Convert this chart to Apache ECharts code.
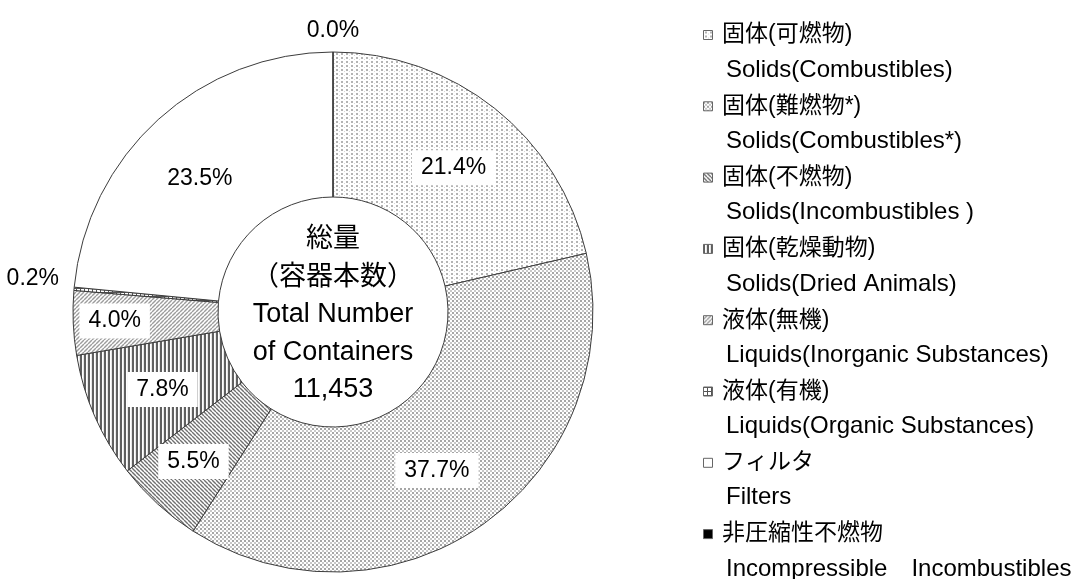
<!DOCTYPE html>
<html>
<head>
<meta charset="utf-8">
<script src="https://cdn.jsdelivr.net/npm/echarts@6/dist/echarts.min.js"></script>
<style>
  html, body { margin: 0; background: #fff; }
  #chart { width: 1079px; height: 579px; }
</style>
</head>
<body>
<div id="chart"></div>
<script>
// categories (legend order = clockwise order from 12 o'clock)
const namesJa = ['固体(可燃物)', '固体(難燃物*)', '固体(不燃物)', '固体(乾燥動物)',
  '液体(無機)', '液体(有機)', 'フィルタ', '非圧縮性不燃物'];
const namesEn = ['Solids(Combustibles)', 'Solids(Combustibles*)', 'Solids(Incombustibles )',
  'Solids(Dried Animals)', 'Liquids(Inorganic Substances)', 'Liquids(Organic Substances)',
  'Filters', 'Incompressible\u3000Incombustibles'];
// share of containers, %
const shares = [21.4, 37.7, 5.5, 7.8, 4.0, 0.2, 23.5, 0.0];
const centerLines = ['総量', '（容器本数）', 'Total Number', 'of Containers', '11,453'];

// which slices keep their label outside the ring
const outsideIdx = [5, 7];
// small nudges of the labels from where echarts puts them
const labelShift = [[2, 5], [-6, 3], [-11, 9], [4, 1], [-28, 1], [-10, -10], [-5, 8], [0, -21]];

const FONT = "'Liberation Sans', 'Noto Sans CJK JP', sans-serif";
const pieCenter = [333, 312];

// hatch / dot fills like the excel patterns
function tile(w, h, draw) {
  const c = document.createElement('canvas');
  c.width = w; c.height = h;
  const g = c.getContext('2d');
  g.fillStyle = '#fff';
  g.fillRect(0, 0, w, h);
  draw(g, w, h);
  return { image: c, repeat: 'repeat' };
}
function diag(g, s, color, lw, up) {
  g.strokeStyle = color; g.lineWidth = lw;
  for (let k = -1; k <= 1; k++) {
    g.beginPath();
    if (up) { g.moveTo(k * s, s); g.lineTo(k * s + s, 0); }
    else { g.moveTo(k * s, 0); g.lineTo(k * s + s, s); }
    g.stroke();
  }
}
const fills = [
  tile(5, 4, g => { g.fillStyle = '#b4b4b4'; g.fillRect(1, 1, 2, 2); g.fillStyle = '#d8d8d8'; g.fillRect(4, 3, 1, 1); }),
  tile(4, 4, g => { g.fillStyle = '#a6a6a6'; g.fillRect(0, 0, 2, 2); g.fillStyle = '#c8c8c8'; g.fillRect(2, 2, 2, 2); }),
  tile(4, 4, (g, s) => diag(g, s, '#707070', 1.4, false)),
  tile(4, 1, g => { g.fillStyle = '#606060'; g.fillRect(0, 0, 2, 1); g.fillStyle = '#e6e6e6'; g.fillRect(3, 0, 1, 1); }),
  tile(4, 4, (g, s) => diag(g, s, '#9c9c9c', 1.4, true)),
  tile(4, 4, g => { g.fillStyle = '#555'; g.fillRect(0, 0, 4, 1); g.fillRect(0, 0, 1, 4); }),
  '#ffffff',
  '#000000'
];

const data = namesJa.map((n, i) => {
  const outside = outsideIdx.indexOf(i) >= 0;
  return {
    name: n,
    value: shares[i],
    itemStyle: { color: fills[i] },
    label: outside
      ? { position: 'outside', backgroundColor: 'transparent', padding: 0 }
      : { position: 'inside' }
  };
});

const legendBase = {
  orient: 'vertical',
  left: 703,
  height: 620, // keep all 8 entries in one column
  padding: 0,
  itemGap: 36.3,
  itemWidth: 18,
  itemHeight: 9,
  data: namesJa
};

const chart = echarts.init(document.getElementById('chart'), null, { renderer: 'canvas' });

chart.setOption({
  animation: false,
  backgroundColor: '#fff',
  legend: [
    Object.assign({}, legendBase, {
      top: 17.5,
      icon: 'path://M0,0h10v10h-10z',
      itemStyle: { borderColor: '#666', borderWidth: 1 },
      textStyle: { fontSize: 23, lineHeight: 35, fontFamily: FONT, color: '#000' }
    }),
    // english second line of each entry, no marker
    Object.assign({}, legendBase, {
      top: 52.5,
      icon: 'none',
      itemStyle: { color: 'transparent', borderWidth: 0 },
      textStyle: { fontSize: 24, lineHeight: 35, fontFamily: FONT, color: '#000' },
      formatter: name => namesEn[namesJa.indexOf(name)]
    })
  ],
  graphic: [{
    type: 'text',
    x: pieCenter[0],
    y: pieCenter[1] + 3,
    style: {
      text: centerLines.join('\n'),
      align: 'center',
      verticalAlign: 'middle',
      fontSize: 27,
      lineHeight: 37.5,
      fontFamily: FONT,
      fill: '#000'
    }
  }],
  series: [{
    type: 'pie',
    center: pieCenter,
    radius: [115, 260],
    startAngle: 90,
    clockwise: true,
    avoidLabelOverlap: false,
    stillShowZeroSum: true,
    emphasis: { disabled: true },
    itemStyle: { borderColor: '#3c3c3c', borderWidth: 1 },
    label: {
      show: true,
      formatter: p => shares[p.dataIndex].toFixed(1) + '%',
      fontSize: 23,
      fontFamily: FONT,
      color: '#000',
      backgroundColor: '#fff',
      padding: [6, 9]
    },
    labelLine: { show: false, length: 0, length2: 0 },
    labelLayout: p => {
      const s = labelShift[p.dataIndex];
      if (shares[p.dataIndex] === 0) {
        return { x: p.rect.x + p.rect.width / 2, align: 'center', dy: s[1] };
      }
      return { dx: s[0], dy: s[1] };
    },
    data: data
  }]
});
</script>
</body>
</html>
